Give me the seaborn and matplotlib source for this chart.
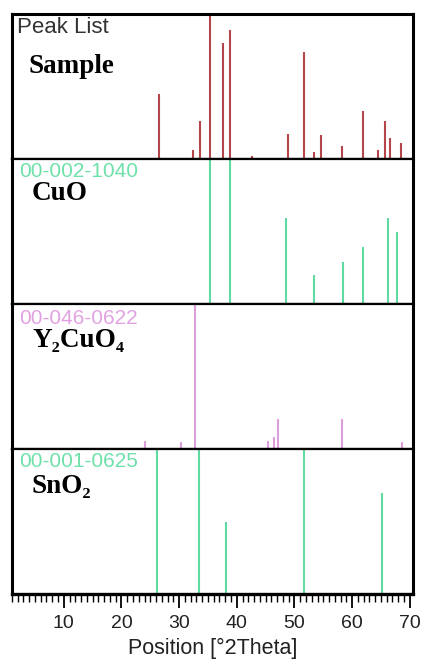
import numpy as np
import pandas as pd
import matplotlib
matplotlib.use("Agg")
import matplotlib.pyplot as plt
from matplotlib.ticker import MultipleLocator
import seaborn as sns

# ---- data ----
sample_pos = [26.5, 32.4, 33.7, 35.4, 37.6, 38.8, 42.6, 48.9, 51.6, 53.4, 54.6,
              58.2, 61.8, 64.5, 65.7, 66.6, 68.4]
sample_int = [45, 6, 26, 100, 80, 89, 2, 17, 74, 5, 16.5, 9, 33, 6, 26, 14.5, 11]

cuo_pos = [35.4, 38.8, 48.6, 53.4, 58.5, 61.8, 66.3, 67.8]
cuo_int = [100, 100, 59.5, 19.7, 29, 39.6, 59.5, 49.8]

y2cuo4_pos = [24.1, 30.4, 32.8, 45.4, 46.5, 47.2, 58.2, 68.7]
y2cuo4_int = [5.7, 4.6, 100, 5.7, 8, 21, 21, 4.6]

sno2_pos = [26.2, 33.4, 38.2, 51.6, 65.1]
sno2_int = [100, 100, 50, 100, 70]

panel_ids = ["Peak List", "00-002-1040", "00-046-0622", "00-001-0625"]
panel_names = ["Sample", "CuO", "Y\u2082CuO\u2084", "SnO\u2082"]
xticks = [10, 20, 30, 40, 50, 60, 70]
xlabel = "Position [\u00b02Theta]"

colors = ["#b4454a", "#5edaa2", "#dc9fdc", "#5edaa2"]
id_colors = ["#333333", "#6fe0aa", "#e2a2e2", "#6fe0aa"]

df = pd.concat([
    pd.DataFrame({"panel": 0, "pos": sample_pos, "int": sample_int}),
    pd.DataFrame({"panel": 1, "pos": cuo_pos, "int": cuo_int}),
    pd.DataFrame({"panel": 2, "pos": y2cuo4_pos, "int": y2cuo4_int}),
    pd.DataFrame({"panel": 3, "pos": sno2_pos, "int": sno2_int}),
], ignore_index=True)

sns.set_style("white")
plt.rcParams["font.family"] = ["Liberation Sans", "DejaVu Sans"]

fig, axes = plt.subplots(4, 1, figsize=(4.25, 6.63), dpi=100, sharex=True)
fig.subplots_adjust(left=0.028, right=0.971, top=0.979, bottom=0.104, hspace=0)

name_y = [0.59, 0.715, 0.70, 0.70]
id_y = [0.869, 0.876, 0.865, 0.876]
name_x = [0.042, 0.048, 0.052, 0.049]
id_x = [0.013, 0.018, 0.018, 0.018]
id_sizes = [16, 15, 15, 15]

for i, ax in enumerate(axes):
    sub = df[df["panel"] == i]
    ax.vlines(sub["pos"], 0, sub["int"], color=colors[i], lw=1.5)
    ax.set_ylim(0, 100)
    ax.set_xlim(1, 70.5)
    ax.set_yticks([])
    for s in ax.spines.values():
        s.set_color("black")
        s.set_linewidth(1.6)
    ax.spines["left"].set_linewidth(2.2)
    ax.spines["right"].set_linewidth(2.2)
    ax.text(id_x[i], id_y[i], panel_ids[i], transform=ax.transAxes,
            color=id_colors[i], fontsize=id_sizes[i], va="baseline", ha="left")
    ax.text(name_x[i], name_y[i], panel_names[i], transform=ax.transAxes,
            color="black", fontsize=19.5, fontweight="bold", va="baseline", ha="left",
            family=["Liberation Serif", "DejaVu Serif"])
    if i < 3:
        ax.tick_params(axis="x", bottom=False, labelbottom=False)

axes[0].spines["top"].set_linewidth(2.2)
ax = axes[-1]
ax.spines["bottom"].set_linewidth(2.4)
ax.set_xticks(xticks)
ax.xaxis.set_minor_locator(MultipleLocator(1))
ax.tick_params(axis="x", which="major", direction="out", length=10, width=1.3,
               color="black", labelsize=14, labelcolor="#222222", pad=5, bottom=True)
ax.tick_params(axis="x", which="minor", direction="out", length=5.5, width=1.0,
               color="black", bottom=True)
ax.set_xlabel(xlabel, fontsize=15.5, color="#222222", labelpad=4)

fig.savefig("out.png", dpi=100)
